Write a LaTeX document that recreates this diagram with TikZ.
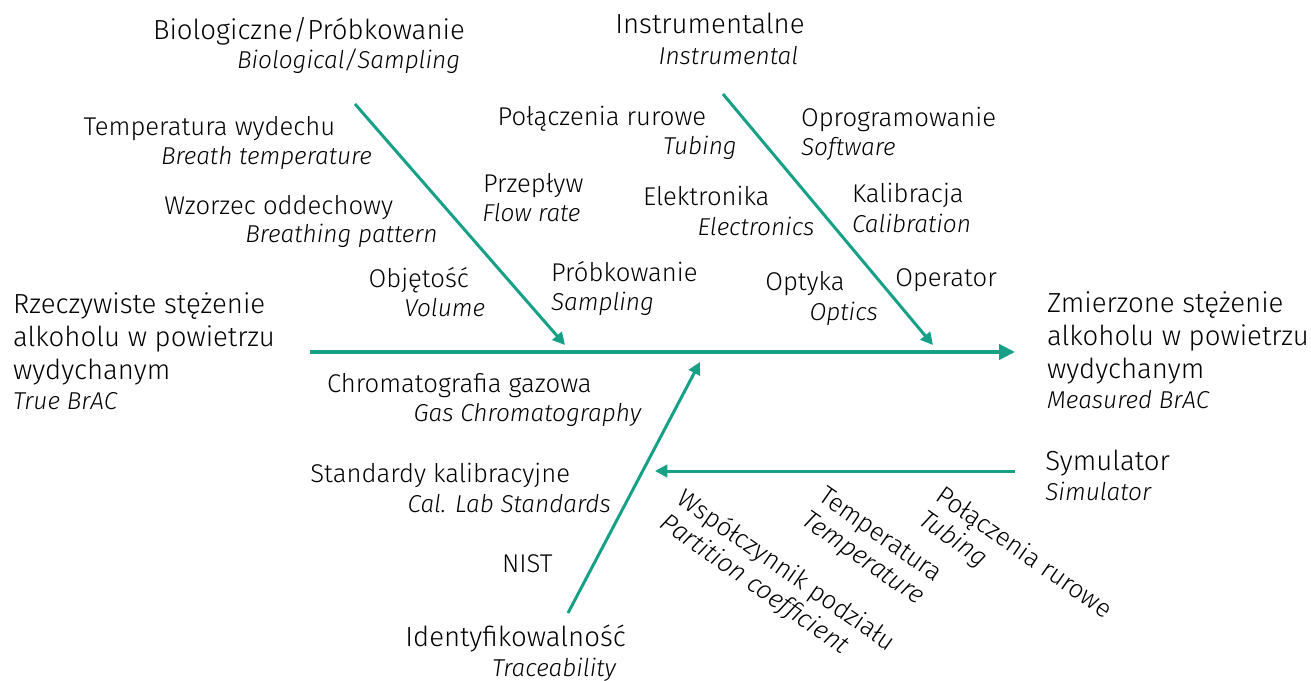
\documentclass[tikz,border=0pt]{standalone}
\usepackage{fontspec}
\setmainfont{Fira Sans}[UprightFont={* Light}, ItalicFont={* Light Italic}]
\usetikzlibrary{arrows.meta}
\definecolor{teal}{RGB}{22,160,133}

\begin{document}
\begin{tikzpicture}[
    x=0.02cm, y=-0.02cm,
    cat/.style={anchor=base west, inner sep=0pt, font=\fontsize{15.7}{19}\selectfont},
    pl/.style={anchor=base west, inner sep=0pt, font=\fontsize{14.6}{19}\selectfont},
    en/.style={anchor=base west, inner sep=0pt, font=\fontsize{13.9}{19}\selectfont\itshape},
    endnode/.style={anchor=base west, inner sep=0pt, align=left, font=\fontsize{15.7}{18.8}\selectfont},
    rotnode/.style={anchor=north west, inner sep=0pt, align=left, rotate=-35, font=\fontsize{14.6}{16.6}\selectfont},
    spine/.style={line width=2.4pt, teal, -{Triangle[length=9pt, width=8.5pt]}},
    bone/.style={line width=1.7pt, teal, -{Triangle[length=7pt, width=7pt]}}
]
\useasboundingbox (0,0) rectangle (1311,680);

% Head and tail
\node[endnode] (true) at (12.7,409) {Rzeczywiste stężenie\\alkoholu w powietrzu\\wydychanym\\[-2pt]{\fontsize{13.9}{19}\selectfont\itshape True BrAC}};
\node[endnode] (meas) at (1046.7,408) {Zmierzone stężenie\\alkoholu w powietrzu\\wydychanym\\[-2pt]{\fontsize{13.9}{19}\selectfont\itshape Measured BrAC}};

% Spine
\coordinate (tail) at (310,352);
\coordinate (head) at (1015,352);
\draw[spine] (tail) -- (head);

% Biological / sampling
\node[cat] (bio) at (152.7,39.3) {Biologiczne/Próbkowanie};
\node[en] (bioen) at (236.7,68.3) {Biological/Sampling};
\coordinate (bioA) at (355,104);
\coordinate (bioB) at (565,345);
\draw[bone] (bioA) -- (bioB);

\node[pl] (breath) at (83.3,135) {Temperatura wydechu};
\node[en] (breathen) at (160.7,164) {Breath temperature};
\node[pl] (pattern) at (164,214) {Wzorzec oddechowy};
\node[en] (patternen) at (245,242.7) {Breathing pattern};
\node[pl] (vol) at (368.3,287.3) {Objętość};
\node[en] (volen) at (404,316) {Volume};
\node[pl] (flow) at (482.7,192.7) {Przepływ};
\node[en] (flowen) at (482,221.7) {Flow rate};
\node[pl] (samp) at (550.7,281) {Próbkowanie};
\node[en] (sampen) at (550.7,310) {Sampling};

% Instrumental
\node[cat] (ins) at (615,33.3) {Instrumentalne};
\node[en] (insen) at (658.3,64) {Instrumental};
\coordinate (insA) at (723,94);
\coordinate (insB) at (933,345);
\draw[bone] (insA) -- (insB);

\node[pl] (tube) at (497.3,125) {Połączenia rurowe};
\node[en] (tubeen) at (662.7,154) {Tubing};
\node[pl] (elec) at (642.7,205) {Elektronika};
\node[en] (elecen) at (697.3,235) {Electronics};
\node[pl] (opt) at (765,290.7) {Optyka};
\node[en] (opten) at (809.3,320.7) {Optics};
\node[pl] (soft) at (800.7,126.7) {Oprogramowanie};
\node[en] (soften) at (800.7,155.7) {Software};
\node[pl] (cal) at (851.7,202.7) {Kalibracja};
\node[en] (calen) at (851.7,232.7) {Calibration};
\node[pl] (oper) at (895,286.7) {Operator};

% Traceability
\node[cat] (trc) at (405,646.7) {Identyfikowalność};
\node[en] (trcen) at (491.7,676) {Traceability};
\coordinate (trcA) at (568,613);
\coordinate (trcB) at (700,362);
\draw[bone] (trcA) -- (trcB);

\node[pl] (gc) at (326.7,392.7) {Chromatografia gazowa};
\node[en] (gcen) at (413.3,421.7) {Gas Chromatography};
\node[pl] (std) at (310,482.7) {Standardy kalibracyjne};
\node[en] (stden) at (407.3,512.7) {Cal. Lab Standards};
\node[pl] (nist) at (501.7,572.7) {NIST};

% Simulator
\node[cat] (sim) at (1045,470) {Symulator};
\node[en] (simen) at (1045,500) {Simulator};
\coordinate (simA) at (1015,471);
\coordinate (simB) at (655,471);
\draw[bone] (simA) -- (simB);

\node[rotnode] (part) at (687,486) {Współczynnik podziału\\{\itshape Partition coefficient}};
\node[rotnode] (temp) at (827,485) {Temperatura\\{\itshape Temperature}};
\node[rotnode] (simtube) at (945,483) {Połączenia rurowe\\{\itshape Tubing}};

\end{tikzpicture}
\end{document}
